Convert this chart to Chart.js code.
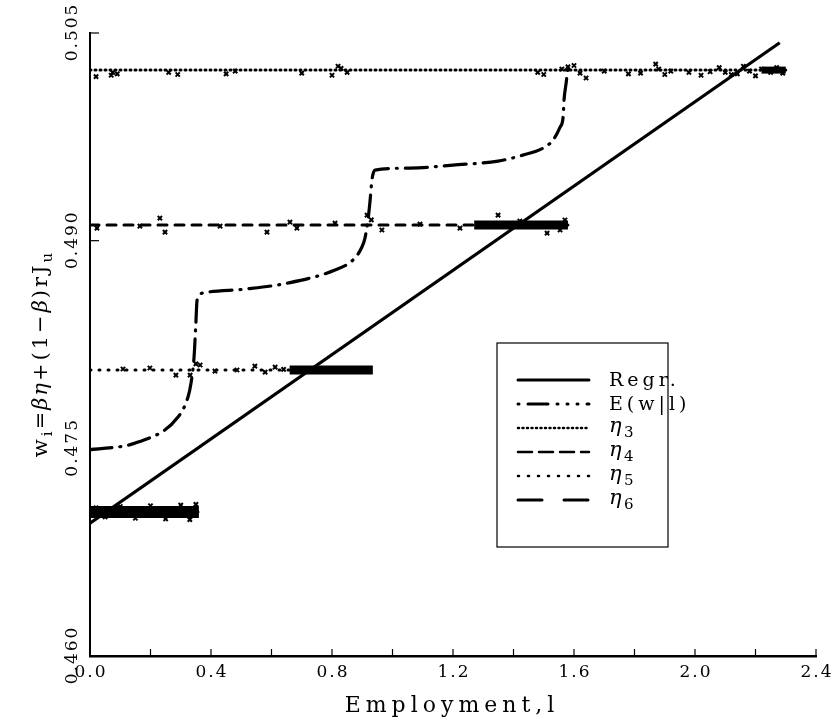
<!DOCTYPE html>
<html>
<head>
<meta charset="utf-8">
<script src="https://cdn.jsdelivr.net/npm/chart.js@4.4.1/dist/chart.umd.min.js"></script>
<style>
  html, body { margin: 0; padding: 0; background: #fff; }
  #wrap { width: 834px; height: 724px; }
</style>
</head>
<body>
<div id="wrap"><canvas id="wageChart" width="834" height="724"></canvas></div>
<script>
// regression line
const regrX = [0, 2.28];
const regrY = [0.4696, 0.5043];

// conditional expectation E(w|l)
const condX = [0.0, 0.159, 0.291, 0.324, 0.334, 0.344, 0.350, 0.354, 0.374, 0.512, 0.655, 0.810,
  0.869, 0.899, 0.909, 0.919, 0.926, 0.932, 0.942, 1.058, 1.200, 1.349, 1.431, 1.498, 1.531,
  1.554, 1.564, 1.567, 1.574, 1.580, 1.603];
const condY = [0.47488, 0.47545, 0.47726, 0.47871, 0.47972, 0.48159, 0.48405, 0.48571, 0.48622, 0.48650, 0.48694, 0.48788,
  0.48860, 0.48954, 0.49019, 0.49149, 0.49293, 0.49438, 0.49510, 0.49524, 0.49546, 0.49575, 0.49618, 0.49669, 0.49727,
  0.49820, 0.49893, 0.50015, 0.50138, 0.50232, 0.50254];

// wage levels eta_3..eta_6, where each group ends, where its dense cloud starts
const etaLevels = [0.50232, 0.49113, 0.48066, 0.47040];
const etaEnds = [2.30, 1.58, 0.935, 0.36];
const cloudStarts = [2.22, 1.27, 0.66, 0.0];

// scattered individual wages around each level
const eta3X = [0.02, 0.07, 0.075, 0.09, 0.26, 0.29, 0.45, 0.48, 0.70, 0.80, 0.82, 0.83, 0.85, 1.48, 1.50, 1.56,
  1.58, 1.60, 1.62, 1.64, 1.70, 1.78, 1.82, 1.87, 1.88, 1.90, 1.92, 1.98, 2.02, 2.05, 2.08, 2.10, 2.12, 2.14, 2.16, 2.18, 2.20, 2.22, 2.25, 2.27, 2.29];
const eta3Y = [0.50185, 0.50195, 0.50215, 0.50205, 0.50215, 0.50200, 0.50205, 0.50225, 0.50210, 0.50195, 0.50260, 0.50245, 0.50215, 0.50215, 0.50200, 0.50240,
  0.50255, 0.50265, 0.50210, 0.50175, 0.50225, 0.50205, 0.50210, 0.50275, 0.50240, 0.50200, 0.50225, 0.50215, 0.50195, 0.50220, 0.50250, 0.50215, 0.50200, 0.50205, 0.50260, 0.50225, 0.50190, 0.50240, 0.50215, 0.50250, 0.50210];
const eta4X = [0.023, 0.165, 0.231, 0.248, 0.430, 0.585, 0.661, 0.684, 0.810, 0.916, 0.930, 0.965, 1.091, 1.223, 1.349, 1.421, 1.511, 1.554, 1.570];
const eta4Y = [0.49091, 0.49105, 0.49163, 0.49062, 0.49105, 0.49062, 0.49134, 0.49091, 0.49127, 0.49185, 0.49150, 0.49077, 0.49120, 0.49091, 0.49185, 0.49141, 0.49055, 0.49077, 0.49149];
const eta5X = [0.109, 0.198, 0.284, 0.331, 0.350, 0.364, 0.413, 0.486, 0.545, 0.579, 0.612, 0.640];
const eta5Y = [0.48073, 0.48080, 0.48029, 0.48029, 0.48110, 0.48102, 0.48058, 0.48066, 0.48094, 0.48051, 0.48087, 0.48070];
const eta6X = [0.02, 0.05, 0.10, 0.15, 0.20, 0.25, 0.30, 0.33, 0.35];
const eta6Y = [0.47070, 0.47005, 0.47080, 0.46995, 0.47085, 0.46990, 0.47090, 0.46985, 0.47095];

const xTicks = [0, 0.4, 0.8, 1.2, 1.6, 2.0, 2.4];
const xMinorTicks = [0.2, 0.6, 1.0, 1.4, 1.8, 2.2];
const yTicks = [0.460, 0.475, 0.490, 0.505];

const etaDash = [[1, 4], [9, 8], [1, 8], [24, 18]];
const condDash = [22, 8, 1, 8];

function pts(xs, ys) {
  return xs.map((x, i) => ({ x: x, y: ys[i] }));
}

const datasets = [
  {
    label: 'Regr.', data: pts(regrX, regrY), showLine: true,
    borderColor: '#000', borderWidth: 3.2, pointRadius: 0
  },
  {
    label: 'E(w|l)', data: pts(condX, condY), showLine: true, cubicInterpolationMode: 'monotone',
    borderColor: '#000', borderWidth: 3.2, borderDash: condDash, borderCapStyle: 'round', pointRadius: 0
  }
];

const noise = [[eta3X, eta3Y], [eta4X, eta4Y], [eta5X, eta5Y], [eta6X, eta6Y]];
etaLevels.forEach((lvl, i) => {
  datasets.push({
    label: 'eta' + (i + 3), data: pts([0, etaEnds[i]], [lvl, lvl]), showLine: true,
    borderColor: '#000', borderWidth: 3, borderDash: etaDash[i], borderCapStyle: 'round', pointRadius: 0
  });
  datasets.push({
    label: 'cloud' + (i + 3), data: pts([cloudStarts[i], etaEnds[i]], [lvl, lvl]), showLine: true,
    borderColor: '#000', borderWidth: i === 3 ? 12 : (i === 0 ? 7 : 9), pointRadius: 0
  });
  datasets.push({
    label: 'obs' + (i + 3), data: pts(noise[i][0], noise[i][1]),
    pointStyle: 'crossRot', pointRadius: 3, pointBorderWidth: 2,
    borderColor: '#000', backgroundColor: '#000'
  });
});

const serif = '"DejaVu Serif", "Liberation Serif", serif';

function drawRich(ctx, parts, cx, cy) {
  let total = 0;
  parts.forEach(p => {
    ctx.font = p.font;
    ctx.letterSpacing = p.ls || '0px';
    p.w = ctx.measureText(p.t).width;
    total += p.w;
  });
  let x = cx - total / 2;
  parts.forEach(p => {
    ctx.font = p.font;
    ctx.letterSpacing = p.ls || '0px';
    ctx.fillText(p.t, x, cy + (p.dy || 0));
    x += p.w;
  });
}

const decor = {
  id: 'decor',
  afterDraw(chart) {
    const { ctx, chartArea: a } = chart;
    const xs = chart.scales.x, ys = chart.scales.y;
    ctx.save();
    ctx.strokeStyle = '#000';
    ctx.fillStyle = '#000';
    ctx.lineWidth = 1.2;
    ctx.setLineDash([]);

    // inward ticks
    xTicks.concat(xMinorTicks).forEach(v => {
      const px = xs.getPixelForValue(v);
      ctx.beginPath(); ctx.moveTo(px, a.bottom); ctx.lineTo(px, a.bottom - 7); ctx.stroke();
    });
    yTicks.forEach(v => {
      const py = ys.getPixelForValue(v);
      ctx.beginPath(); ctx.moveTo(a.left, py); ctx.lineTo(a.left + 9, py); ctx.stroke();
    });

    // tick labels
    ctx.textBaseline = 'middle';
    ctx.textAlign = 'center';
    ctx.font = '17px ' + serif;
    ctx.letterSpacing = '2px';
    xTicks.forEach(v => {
      ctx.fillText(v.toFixed(1), xs.getPixelForValue(v) + 1, a.bottom + 17);
    });
    yTicks.forEach(v => {
      ctx.save();
      ctx.translate(a.left - 17, ys.getPixelForValue(v));
      ctx.rotate(-Math.PI / 2);
      ctx.fillText(v.toFixed(3), 1, 0);
      ctx.restore();
    });

    // axis titles
    ctx.textAlign = 'left';
    ctx.font = '22px ' + serif;
    ctx.letterSpacing = '5px';
    const title = 'Employment,l';
    const tw = ctx.measureText(title).width;
    ctx.fillText(title, 452 - tw / 2, 706);

    ctx.save();
    ctx.translate(42, 355);
    ctx.rotate(-Math.PI / 2);
    const big = '21px ' + serif, ital = 'italic 21px ' + serif, small = '15px ' + serif;
    drawRich(ctx, [
      { t: 'w', font: big, ls: '3px' },
      { t: 'i', font: small, dy: 6, ls: '2px' },
      { t: '=', font: big, ls: '2px' },
      { t: 'βη', font: ital, ls: '2px' },
      { t: '+(1−', font: big, ls: '3px' },
      { t: 'β', font: ital, ls: '2px' },
      { t: ')rJ', font: big, ls: '3px' },
      { t: 'u', font: small, dy: 6 }
    ], 0, 0);
    ctx.restore();

    // legend
    const bx = 497, by = 343, bw = 171, bh = 204;
    ctx.lineWidth = 1.2;
    ctx.strokeRect(bx, by, bw, bh);
    const rows = [380, 404, 428, 452, 476, 500];
    const sample = [
      { dash: [], w: 3 },
      { dash: [1, 9, 20, 9, 1, 9, 1, 9], w: 3 },
      { dash: [1, 3.5], w: 2.5 },
      { dash: [14, 7], w: 2.5 },
      { dash: [1, 9], w: 2.5 },
      { dash: [24, 22], w: 3 }
    ];
    ctx.lineCap = 'round';
    rows.forEach((ry, i) => {
      ctx.setLineDash(sample[i].dash);
      ctx.lineWidth = sample[i].w;
      ctx.beginPath(); ctx.moveTo(518, ry); ctx.lineTo(589, ry); ctx.stroke();
    });
    ctx.setLineDash([]);
    ctx.textAlign = 'left';
    ctx.font = '19px ' + serif;
    ctx.letterSpacing = '4px';
    ctx.fillText('Regr.', 609, rows[0] + 1);
    ctx.fillText('E(w|l)', 609, rows[1] + 1);
    for (let k = 0; k < 4; k++) {
      ctx.font = 'italic 21px ' + serif;
      ctx.letterSpacing = '2px';
      ctx.fillText('η', 609, rows[k + 2] - 1);
      ctx.font = '15px ' + serif;
      ctx.fillText(String(k + 3), 624, rows[k + 2] + 5);
    }
    ctx.restore();
  }
};

new Chart(document.getElementById('wageChart'), {
  type: 'scatter',
  data: { datasets: datasets },
  options: {
    responsive: false,
    animation: false,
    devicePixelRatio: 1,
    layout: { padding: { top: 33, right: 18, left: 0, bottom: 0 } },
    plugins: { legend: { display: false }, tooltip: { enabled: false } },
    scales: {
      x: {
        type: 'linear', min: 0, max: 2.4,
        grid: { display: false, drawTicks: false },
        ticks: { display: false },
        border: { display: true, color: '#000', width: 2.5 },
        afterFit: s => { s.height = 68; }
      },
      y: {
        type: 'linear', min: 0.46, max: 0.505,
        grid: { display: false, drawTicks: false },
        ticks: { display: false },
        border: { display: true, color: '#000', width: 2 },
        afterFit: s => { s.width = 90; }
      }
    }
  },
  plugins: [decor]
});
</script>
</body>
</html>
